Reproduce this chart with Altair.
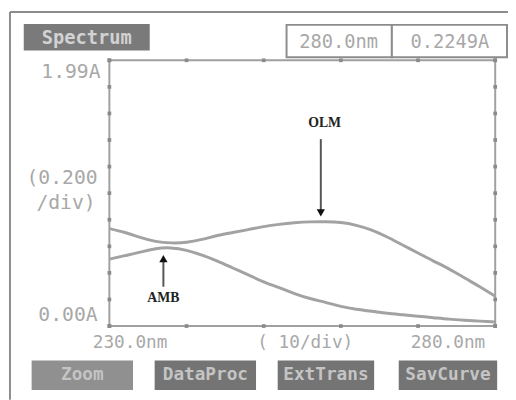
import altair as alt
import pandas as pd

# ---- data ----
wavelength = [230, 232, 234, 236, 238, 240, 242, 244, 246, 248, 250, 252, 254,
              256, 258, 260, 262, 264, 266, 268, 270, 272, 274, 276, 278, 280]
olm = [0.733, 0.704, 0.667, 0.637, 0.626, 0.630, 0.652, 0.681, 0.704, 0.726,
       0.748, 0.765, 0.777, 0.784, 0.785, 0.779, 0.758, 0.722, 0.670, 0.610,
       0.550, 0.489, 0.430, 0.363, 0.296, 0.2249]
amb = [0.504, 0.530, 0.556, 0.582, 0.588, 0.569, 0.533, 0.489, 0.437, 0.385,
       0.333, 0.289, 0.244, 0.207, 0.178, 0.148, 0.126, 0.111, 0.096, 0.085,
       0.074, 0.063, 0.052, 0.044, 0.037, 0.030]

x_ticks = [230, 240, 250, 260, 270, 280]
y_ticks = [0.0, 0.2, 0.4, 0.6, 0.8, 1.0, 1.2, 1.4, 1.6, 1.8, 2.0]

ann_labels = ["OLM", "AMB"]
ann_x = [257.4, 237.0]
ann_text_x = [257.9, 237.0]
ann_text_y = [1.526, 0.207]
ann_tail = [1.407, 0.296]
ann_tip = [0.852, 0.507]
ann_shape = ["triangle-down", "triangle-up"]

header_wl = "280.0nm"
header_abs = "0.2249A"
y_labels = ["1.99A", ["(0.200", "/div)"], "0.00A"]
x_labels = ["230.0nm", "(  10/div)", "280.0nm"]
buttons = ["Zoom", "DataProc", "ExtTrans", "SavCurve"]

# ---- tables ----
curves = pd.DataFrame({
    "nm": wavelength * 2,
    "A": olm + amb,
    "series": ["OLM"] * len(wavelength) + ["AMB"] * len(wavelength),
})
tick_rows = []
for t in x_ticks:
    tick_rows.append({"nm": t, "A": y_ticks[0]})
    tick_rows.append({"nm": t, "A": y_ticks[-1]})
for t in y_ticks:
    tick_rows.append({"nm": x_ticks[0], "A": t})
    tick_rows.append({"nm": x_ticks[-1], "A": t})
ticks = pd.DataFrame(tick_rows)
ann = pd.DataFrame({"label": ann_labels, "nm": ann_x, "tx": ann_text_x,
                    "ty": ann_text_y, "tail": ann_tail, "tip": ann_tip,
                    "shape": ann_shape})

xs = alt.Scale(domain=[230, 280], nice=False, zero=False)
ys = alt.Scale(domain=[0, 2], nice=False)
MONO = "DejaVu Sans Mono"
LCD = "#a8a8a8"

lines = alt.Chart(curves).mark_line(color="#a2a2a2", strokeWidth=3, interpolate="natural").encode(
    x=alt.X("nm:Q", scale=xs, axis=None),
    y=alt.Y("A:Q", scale=ys, axis=None),
    detail="series:N",
)
tickmarks = alt.Chart(ticks).mark_point(shape="square", filled=True, size=14, color="#8a8a8a", opacity=1).encode(
    x=alt.X("nm:Q", scale=xs, axis=None),
    y=alt.Y("A:Q", scale=ys, axis=None),
)
arrows = alt.Chart(ann).mark_rule(color="#555555", strokeWidth=2).encode(
    x=alt.X("nm:Q", scale=xs, axis=None),
    y=alt.Y("tail:Q", scale=ys, axis=None),
    y2="tip:Q",
)
heads = alt.Chart(ann).mark_point(filled=True, size=70, color="#111111", opacity=1).encode(
    x=alt.X("nm:Q", scale=xs, axis=None),
    y=alt.Y("tip:Q", scale=ys, axis=None),
    shape=alt.Shape("shape:N", scale=None, legend=None),
)
ann_text = alt.Chart(ann).mark_text(font="Liberation Serif", fontWeight="bold", fontSize=14, color="#222222").encode(
    x=alt.X("tx:Q", scale=xs, axis=None),
    y=alt.Y("ty:Q", scale=ys, axis=None),
    text="label:N",
)

one = alt.Data(values=[{"k": 1}])
decor = []


def rect(x0, x1, y0, y1, fill, stroke=None, sw=0):
    kw = dict(fill=fill)
    if stroke:
        kw.update(stroke=stroke, strokeWidth=sw)
    decor.append(alt.Chart(one).mark_rect(**kw).encode(
        x=alt.value(x0), x2=alt.value(x1), y=alt.value(y0), y2=alt.value(y1)))


def txt(s, x, y, size, color, align="center", font=MONO, weight="normal"):
    decor.append(alt.Chart(one).mark_text(
        text=s, font=font, fontSize=size, color=color, align=align,
        baseline="middle", fontWeight=weight).encode(x=alt.value(x), y=alt.value(y)))


# outer screen frame
decor.append(alt.Chart(one).mark_rule(color="#8c8c8c", strokeWidth=2).encode(
    x=alt.value(-101), x2=alt.value(410), y=alt.value(-49)))
decor.append(alt.Chart(one).mark_rule(color="#8c8c8c", strokeWidth=2).encode(
    x=alt.value(-101), y=alt.value(-49), y2=alt.value(345)))

# title box
rect(-87, 41, -37, -10, "#7a7a7a")
txt("Spectrum", -23, -23, 19, "#d2d2d2", weight="bold")
# header boxes
rect(180, 287, -36, -3, "#ffffff", "#8c8c8c", 2)
rect(287, 404, -36, -3, "#ffffff", "#8c8c8c", 2)
txt(header_wl, 233, -19, 19, LCD)
txt(header_abs, 346, -19, 19, LCD)

# y labels
txt(y_labels[0], -9, 12, 20, LCD, align="right")
txt(y_labels[1][0], -12, 120, 20, LCD, align="right")
txt(y_labels[1][1], -14, 145, 20, LCD, align="right")
txt(y_labels[2], -12, 259, 20, LCD, align="right")
# x labels
txt(x_labels[0], 21, 287, 18, LCD)
txt(x_labels[1], 199, 287, 18, LCD)
txt(x_labels[2], 344, 287, 18, LCD)

# buttons
btn_x = [(-79, 24), (46, 149), (171, 269), (294, 394)]
btn_fill = ["#909090", "#747474", "#747474", "#747474"]
for name, (a, b), f in zip(buttons, btn_x, btn_fill):
    rect(a, b, 305, 335, f)
    txt(name, (a + b) / 2, 320, 18, "#c4c4c4", weight="bold")

chart = alt.layer(*decor, lines, tickmarks, arrows, heads, ann_text).properties(
    width=392, height=270,
    autosize=alt.AutoSizeParams(type="none"),
    padding={"left": 103, "top": 50, "right": 13, "bottom": 72},
    background="white",
).configure_view(stroke="#a0a0a0", strokeWidth=2)

chart.save("out.html", embed_options={"renderer": "svg", "actions": False})
